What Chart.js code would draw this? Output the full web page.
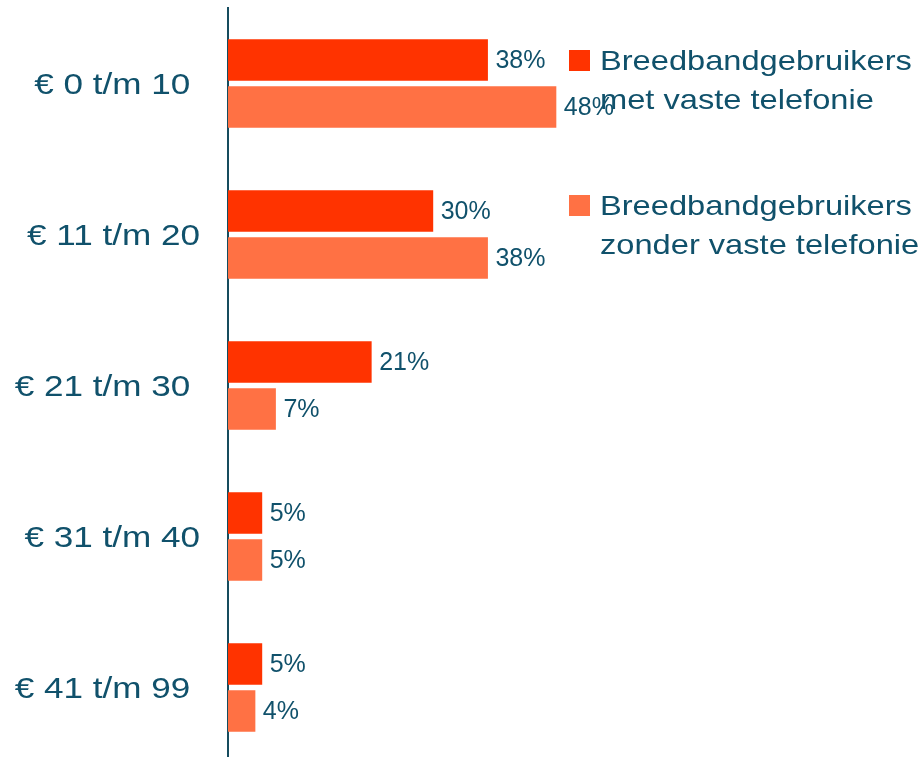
<!DOCTYPE html>
<html>
<head>
<meta charset="utf-8">
<script src="https://cdn.jsdelivr.net/npm/chart.js@4.4.1/dist/chart.umd.min.js"></script>
<style>
  html, body { margin: 0; padding: 0; background: #ffffff; overflow: hidden; }
  #wrap { position: absolute; left: 0; top: 0; width: 922px; height: 763px; }
</style>
</head>
<body>
<div id="wrap"><canvas id="c" width="922" height="763"></canvas></div>
<script>
// ---- data ----
const categories = ["€ 0 t/m 10 ", "€ 11 t/m 20", "€ 21 t/m 30 ", "€ 31 t/m 40", "€ 41 t/m 99 "];
const metVasteTelefonie = [38, 30, 21, 5, 5];
const zonderVasteTelefonie = [48, 38, 7, 5, 4];
const seriesNames = [
  ["Breedbandgebruikers", "met vaste telefonie"],
  ["Breedbandgebruikers", "zonder vaste telefonie"]
];

const TEXT = "#10516B";
const AXIS = "#164C5E";
const DARK = "#FF3300";
const LIGHT = "#FF7144";
const FONT = "'Liberation Sans', Arial, sans-serif";
const STRETCH = 1.17;      // the reference text is horizontally widened
const LABEL_RIGHT = 200;   // right edge of the category labels

const valueLabels = {
  id: "valueLabels",
  afterDatasetsDraw(chart) {
    const ctx = chart.ctx;
    ctx.save();
    ctx.font = "25px " + FONT;
    ctx.fillStyle = TEXT;
    ctx.textAlign = "left";
    ctx.textBaseline = "middle";
    chart.data.datasets.forEach((ds, di) => {
      const meta = chart.getDatasetMeta(di);
      meta.data.forEach((bar, i) => {
        ctx.fillText(ds.data[i] + "%", bar.x + 7.5, bar.y + 1);
      });
    });
    ctx.restore();
  }
};

const legendPlugin = {
  id: "customLegend",
  afterDraw(chart) {
    const ctx = chart.ctx;
    ctx.save();
    ctx.font = "28px " + FONT;
    ctx.textAlign = "left";
    ctx.textBaseline = "alphabetic";
    const colors = [DARK, LIGHT];
    const tops = [50, 195];
    seriesNames.forEach((lines, k) => {
      ctx.fillStyle = colors[k];
      ctx.fillRect(569, tops[k], 21, 21);
      ctx.fillStyle = TEXT;
      lines.forEach((ln, j) => {
        ctx.save();
        ctx.translate(600, tops[k] + 20 + j * 38.5);
        ctx.scale(1.165, 1);
        ctx.fillText(ln, 0, 0);
        ctx.restore();
      });
    });
    ctx.restore();
  }
};

new Chart(document.getElementById("c"), {
  type: "bar",
  data: {
    labels: categories,
    datasets: [
      { label: seriesNames[0].join(" "), data: metVasteTelefonie, backgroundColor: DARK,
        categoryPercentage: 0.6225, barPercentage: 0.887 },
      { label: seriesNames[1].join(" "), data: zonderVasteTelefonie, backgroundColor: LIGHT,
        categoryPercentage: 0.6225, barPercentage: 0.887 }
    ]
  },
  options: {
    indexAxis: "y",
    responsive: false,
    animation: false,
    devicePixelRatio: 1,
    layout: { padding: { top: 8, right: 10, bottom: 0, left: 0 } },
    plugins: { legend: { display: false }, tooltip: { enabled: false } },
    scales: {
      x: { display: false, min: 0, max: 100 },
      y: {
        grid: { display: false, drawTicks: false },
        border: { display: true, color: AXIS, width: 2 },
        ticks: { color: TEXT, font: { family: FONT, size: 30 }, padding: 28 },
        afterFit(scale) {
          scale.width = 228;
          scale.paddingTop = 0;
          scale.paddingBottom = 0;
          if (!scale._stretched) {
            const orig = scale.drawLabels;
            scale.drawLabels = function (area) {
              const ctx = this.ctx;
              ctx.save();
              ctx.translate(LABEL_RIGHT, 2);
              ctx.scale(STRETCH, 1);
              ctx.translate(-LABEL_RIGHT, 0);
              orig.call(this, area);
              ctx.restore();
            };
            scale._stretched = true;
          }
        }
      }
    }
  },
  plugins: [valueLabels, legendPlugin]
});
</script>
</body>
</html>
